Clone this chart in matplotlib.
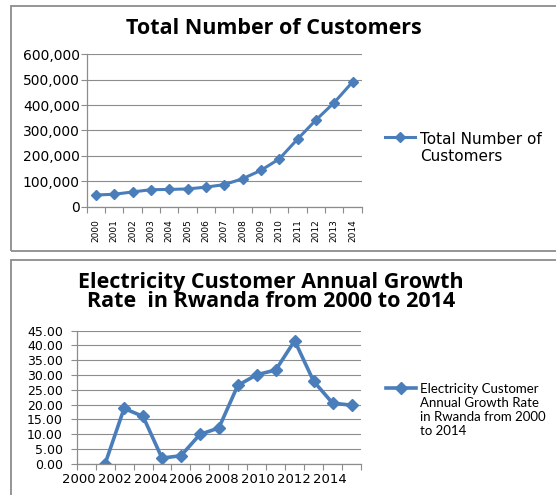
import matplotlib.pyplot as plt
import numpy as np
from matplotlib.patches import Rectangle
from matplotlib.ticker import FuncFormatter

# data
years = [str(y) for y in range(2000, 2015)]
customers = [46000, 49000, 58000, 67000, 68000, 70000, 77000, 87000,
             110000, 143000, 188000, 266000, 341000, 410000, 491000]
growth_years = years[1:]
growth = [0.0, 18.7, 16.0, 1.9, 2.7, 9.9, 12.1, 26.5, 30.1, 31.7,
          41.6, 27.9, 20.5, 19.8]
growth_labels = years[::2]

BLUE = '#4A7EBB'
GRID = '#8C8C8C'
W, H = 556, 495

fig = plt.figure(figsize=(W / 100, H / 100), dpi=100)


def fx(px):
    return px / W


def fy(py):
    return 1 - py / H


# grey frames round the two charts
fig.add_artist(Rectangle((fx(11), fy(251)), fx(600), (251 - 6) / H, fill=False,
                         ec='#8C8C8C', lw=1.3, transform=fig.transFigure))
fig.add_artist(Rectangle((fx(11), fy(560)), fx(600), (560 - 260) / H, fill=False,
                         ec='#8C8C8C', lw=1.3, transform=fig.transFigure))


def style(ax):
    for s in ('top', 'right'):
        ax.spines[s].set_visible(False)
    for s in ('left', 'bottom'):
        ax.spines[s].set_color(GRID)
        ax.spines[s].set_linewidth(0.9)
    ax.grid(axis='y', color=GRID, lw=0.8)
    ax.set_axisbelow(True)
    ax.tick_params(axis='both', which='major', color=GRID, length=4, width=0.8)
    ax.tick_params(axis='x', which='major', labelbottom=False)
    ax.tick_params(axis='x', which='minor', length=0)


def legend_top_align(leg):
    # put the marker beside the first line of a wrapped label, like Excel
    for row in leg._legend_handle_box.get_children():
        for hp in row.get_children():
            hp.align = 'top'


# --- top chart ---
ax1 = fig.add_axes([fx(86.7), fy(206.7), (361.7 - 86.7) / W, (206.7 - 54.3) / H])
x1 = np.arange(len(years))
ax1.plot(x1, customers, color=BLUE, lw=2.2, marker='D', ms=5.5,
         label='Total Number of\nCustomers')
ax1.set_xlim(-0.5, len(years) - 0.5)
ax1.set_ylim(0, 600000)
ax1.set_yticks(np.arange(0, 600001, 100000))
ax1.yaxis.set_major_formatter(FuncFormatter(lambda v, p: f'{int(v):,}'))
ax1.set_xticks(np.arange(-0.5, len(years), 1))
ax1.set_xticks(x1, years, minor=True)
style(ax1)
ax1.tick_params(axis='x', which='minor', rotation=90, labelsize=6.5, pad=9)
ax1.tick_params(axis='y', labelsize=10, pad=1)
leg1 = ax1.legend(loc='center left', bbox_to_anchor=(fx(371), fy(148)),
                  bbox_transform=fig.transFigure, frameon=False, handlelength=2.0,
                  handletextpad=0.3, prop={'size': 11})
legend_top_align(leg1)

fig.text(fx(274), fy(29), 'Total Number of Customers', ha='center', va='center',
         fontsize=15.5, fontweight='bold', family='Open Sans')

# --- bottom chart ---
ax2 = fig.add_axes([fx(76.7), fy(463.7), (361 - 76.7) / W, 133 / H])
x2 = np.arange(1, len(years))
ax2.plot(x2, growth, color=BLUE, lw=2.6, marker='D', ms=6,
         label='Electricity Customer\nAnnual Growth Rate\nin Rwanda from 2000\nto 2014')
ax2.set_xlim(-0.5, len(years) - 0.5)
ax2.set_ylim(0, 45)
ax2.set_yticks(np.arange(0, 45.1, 5))
ax2.yaxis.set_major_formatter(FuncFormatter(lambda v, p: f'{v:.2f}'))
ax2.set_xticks(np.arange(-0.5, len(years), 1))
ax2.set_xticks(np.linspace(-0.4, 12.85, len(growth_labels)), growth_labels, minor=True)
style(ax2)
ax2.tick_params(axis='x', which='minor', labelsize=9.5, pad=7)
ax2.tick_params(axis='y', labelsize=9, pad=6)
leg2 = ax2.legend(loc='center left', bbox_to_anchor=(fx(374), fy(410)),
                  bbox_transform=fig.transFigure, frameon=False, handlelength=2.3,
                  handletextpad=0.3, prop={'family': 'Lato', 'size': 9.5})
legend_top_align(leg2)

fig.text(fx(271), fy(292), 'Electricity Customer Annual Growth\nRate  in Rwanda from 2000 to 2014',
         ha='center', va='center', fontsize=15.5, fontweight='bold', family='Open Sans',
         linespacing=0.9)

fig.savefig('out.png', dpi=100)
